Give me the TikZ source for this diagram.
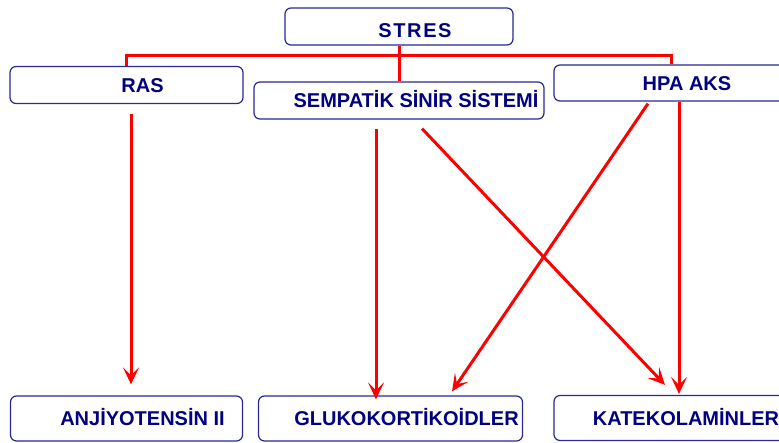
\documentclass[tikz,border=0pt]{standalone}
\usepackage{fontspec}
\setmainfont{Liberation Sans}
\usetikzlibrary{arrows.meta}
\definecolor{boxblue}{RGB}{40,40,150}
\definecolor{txtblue}{RGB}{0,0,128}
\begin{document}
\begin{tikzpicture}[x=1pt,y=-1pt,
  box/.style={draw=boxblue, line width=1.2pt, rounded corners=6pt, inner sep=0pt,
    text=txtblue, font=\bfseries\fontsize{20}{24}\selectfont,
    text height=14.3pt, text depth=0pt, minimum height=37pt, anchor=center},
  link/.style={draw=red, line width=3pt},
  arr/.style={link, -{Stealth[length=17pt,width=16pt,inset=8pt]}}]
\useasboundingbox (0,0) rectangle (779,442);
\clip (0,0) rectangle (779,442);
\node[box, minimum width=228pt] (stres) at (399,26.5) {\raisebox{-3.5pt}{\hspace*{32pt}\addfontfeature{LetterSpace=8}STRES}};
\node[box, minimum width=233pt] (ras) at (126.5,85) {\hspace*{32pt}RAS};
\node[box, minimum width=290pt] (semp) at (399,100.5) {\hspace*{34pt}SEMPATİK SİNİR SİSTEMİ};
\node[box, minimum width=234pt, minimum height=36pt] (hpa) at (671,83) {\hspace*{32pt}HPA AKS};
\node[box, minimum width=232pt, minimum height=45pt] (anj) at (126.5,418.5) {\hspace*{32pt}ANJİYOTENSİN II};
\node[box, minimum width=264pt, minimum height=45pt] (glu) at (390.5,418.5) {\hspace*{32pt}GLUKOKORTİKOİDLER};
\node[box, minimum width=234pt, minimum height=45pt] (kat) at (671,418) {\hspace*{30pt}KATEKOLAMİNLER};
\coordinate (bus) at (399,55);
\draw[link] (ras.north) -- (ras.north |- bus) -- (hpa.north |- bus) -- (hpa.north);
\draw[link] (stres.south) -- (semp.north);
\draw[arr] ([xshift=4.5pt,yshift=-10pt]ras.south) -- ([xshift=4.5pt,yshift=11pt]anj.north);
\draw[arr] ([xshift=-23pt,yshift=-9pt]semp.south) -- ([xshift=-14.5pt,yshift=-4pt]glu.north);
\draw[arr] ([xshift=23pt,yshift=-9pt]semp.south) -- ([xshift=-6pt,yshift=10pt]kat.north);
\draw[arr] ([xshift=-23pt,yshift=-2pt]hpa.south) -- ([xshift=61.5pt,yshift=4pt]glu.north);
\draw[arr] ([xshift=8pt]hpa.south) -- ([xshift=8pt,yshift=1pt]kat.north);
\end{tikzpicture}
\end{document}
